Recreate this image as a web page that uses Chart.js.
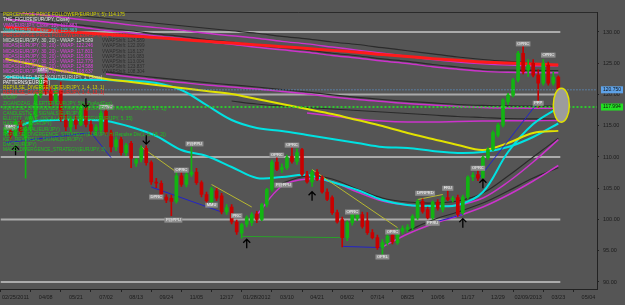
<!DOCTYPE html>
<html>
<head>
<meta charset="utf-8">
<script src="https://cdn.jsdelivr.net/npm/chart.js@4.4.1/dist/chart.umd.min.js"></script>
<style>
  html, body { margin: 0; padding: 0; background: #555555; overflow: hidden; }
  canvas { display: block; }
</style>
</head>
<body>
<canvas id="chart" width="625" height="305"></canvas>
<script>
// EUR/JPY weekly, Feb 2011 - Mar 2013
const opens  = [113.8,114.6,113.5,115.6,113.0,114.6,116.5,119.9,122.7,120.6,119.0,120.6,116.0,114.8,116.0,115.2,118.0,115.2,114.2,114.3,
                117.3,114.0,111.6,112.8,110.7,112.2,109.0,109.6,111.4,109.1,106.0,105.8,103.6,103.4,102.9,107.0,105.6,107.2,107.6,105.9,
                104.0,102.8,104.6,103.8,101.2,102.0,99.6,97.8,99.2,99.5,100.9,100.0,102.4,104.8,109.2,108.0,108.3,110.1,109.3,111.2,
                107.2,106.0,107.6,106.7,104.4,103.5,101.1,100.0,97.1,99.5,100.2,100.8,99.8,97.9,97.1,95.5,96.3,97.5,96.3,98.1,
                98.4,98.7,100.3,102.9,101.6,100.3,102.8,101.6,103.5,103.2,103.5,101.1,103.6,106.8,107.2,106.7,109.9,111.2,113.5,115.1,
                118.8,119.9,122.3,126.6,123.9,125.0,123.1,121.8,124.7,121.8,122.8];
const highs  = [115.2,115.0,116.0,115.9,115.0,117.0,120.3,123.2,123.3,121.2,121.5,122.0,116.8,116.5,116.6,118.3,118.5,115.8,115.2,117.4,
                117.8,114.3,113.2,113.2,112.2,112.5,109.8,111.8,111.8,109.4,106.6,106.2,104.0,103.9,107.5,107.6,107.6,111.6,108.2,106.2,
                104.4,105.2,105.0,104.2,102.4,102.4,99.9,99.4,100.6,101.1,101.3,102.6,105.0,109.5,110.2,108.9,110.3,111.5,111.3,111.4,
                107.7,107.9,108.0,107.0,104.9,103.8,101.5,100.4,99.8,101.3,101.0,101.2,101.1,98.4,97.5,96.8,97.8,98.4,98.5,99.0,
                99.2,100.8,103.2,103.3,102.0,103.0,103.2,103.8,105.1,103.7,103.9,103.9,107.0,107.5,108.0,110.2,111.5,114.2,115.4,119.3,
                120.2,122.6,126.9,127.9,125.6,125.6,124.0,125.6,125.2,123.6,123.0];
const lows   = [113.3,112.8,113.2,113.4,106.6,114.0,116.0,119.5,120.0,118.2,118.6,115.7,114.2,114.0,114.5,115.0,114.8,113.6,113.5,114.0,
                113.6,110.8,111.0,110.3,110.2,108.3,108.5,109.2,108.7,105.6,105.1,103.3,102.7,100.6,102.6,105.3,105.2,106.9,105.6,103.6,
                102.6,102.5,103.0,100.9,100.8,99.3,97.6,97.0,98.8,99.0,99.5,99.8,102.0,104.5,107.8,107.5,108.0,109.0,108.8,107.0,
                105.8,105.3,106.2,104.2,103.0,100.8,99.4,95.6,96.6,99.1,99.8,98.6,97.6,96.9,95.2,94.1,95.9,96.1,96.0,97.7,
                98.0,98.3,100.0,101.0,100.1,100.0,101.5,101.2,103.0,102.8,100.5,100.8,103.3,106.2,106.2,106.4,109.6,111.0,113.2,114.8,
                118.4,119.6,122.0,123.3,122.9,122.8,117.9,121.5,121.5,121.5,119.8];
const closes = [114.6,113.5,115.6,114.0,114.6,116.5,119.9,122.7,120.6,119.0,120.6,116.0,114.8,116.0,115.2,118.0,115.2,114.2,114.8,117.0,
                114.0,111.6,112.8,110.7,111.9,109.8,109.6,111.4,109.1,106.0,105.8,103.6,103.1,102.9,107.0,105.6,107.2,107.6,105.9,104.0,
                103.0,104.9,103.4,101.2,101.9,99.6,98.0,99.2,100.3,100.8,100.0,102.4,104.8,109.2,108.0,108.3,109.9,109.3,110.7,107.2,
                106.0,107.6,106.4,104.4,103.2,101.1,99.6,97.1,99.5,101.0,100.7,98.9,97.9,97.1,95.5,96.3,97.3,96.4,98.1,98.6,
                98.8,100.5,102.9,101.3,100.3,102.8,101.8,103.5,103.2,103.4,100.8,103.6,106.8,107.1,106.6,109.9,111.2,113.9,115.1,119.1,
                119.9,122.3,126.6,123.6,124.7,123.1,121.8,125.0,121.8,122.8,120.75];

// x axis
const tickIdx = [2,8,14,20,26,32,38,44,50,56,62,68,74,80,86,92,98,104,110,116];
const tickLabels = ['02/25/2011','04/08','05/21','07/02','08/13','09/24','11/05','12/17','01/28/2012','03/10',
                    '04/21','06/02','07/14','08/25','10/06','11/17','12/29','02/09/2013','03/23','05/04'];
const yTicks = [90,95,100,105,110,115,120,125,130];
const roundLevels = [90,100,110,120,130];
const markPrice = 117.994;

// indicator lines, sampled every 5 weeks
const lineIdx = [0,5,10,15,20,25,30,35,40,45,50,55,60,65,70,75,80,85,90,95,100,105,110];
const ppf20 = [130.75,130.48,130.16,129.90,129.63,129.36,129.10,128.80,128.51,128.24,127.94,127.65,127.36,127.06,126.77,126.40,126.08,125.74,125.47,125.20,125.04,124.88,124.72];
const ppf5  = [125.68,124.88,123.92,123.28,122.48,122.0,121.52,121.04,120.56,120.08,119.28,118.48,117.68,116.88,115.92,114.96,113.84,112.88,111.92,111.12,112.24,113.84,114.18];
const vma12 = [113.84,115.6,115.92,115.92,115.76,114.8,113.36,111.12,110.16,108.4,106.64,106.8,107.12,106.0,104.72,103.12,102.32,102.16,102.32,104.4,110.8,115.28,117.88];
const vma26 = [122.8,122.64,122.48,122.32,122.32,122.16,121.84,120.72,118.32,115.92,114.64,114.16,113.52,112.88,112.24,111.6,111.44,110.96,110.64,110.8,111.6,113.2,115.36];
const midas1 = [133.3,132.9,132.5,132.0,131.6,131.1,130.7,130.3,129.8,129.4,129.0,128.5,128.1,127.6,127.1,126.6,126.1,125.6,125.2,124.9,124.7,124.6,124.59];
const shift1 = [133.8,133.4,133.0,132.6,132.2,131.8,131.4,131.0,130.6,130.2,129.8,129.3,128.9,128.4,128.0,127.5,127.0,126.5,126.0,125.6,125.3,125.0,124.6];
const midas6 = [132.05,131.65,131.15,130.75,130.25,129.85,129.35,128.95,128.45,128.05,127.55,127.15,126.75,126.25,125.85,125.35,124.95,124.45,124.05,123.7,123.55,123.5,123.5];
const shift6 = [132.4,132.0,131.5,131.1,130.6,130.2,129.7,129.3,128.8,128.4,127.9,127.5,127.1,126.6,126.2,125.7,125.3,124.8,124.4,124.0,123.9,123.85,123.84];
const midas3 = [null,null,null,null,123.28,122.8,122.32,121.92,121.52,121.2,120.88,120.48,120.08,119.6,119.2,118.88,118.56,118.32,118.08,117.92,117.84,117.81,117.80];
const shift3 = [null,null,null,null,123.6,123.15,122.7,122.3,121.9,121.55,121.2,120.8,120.4,119.95,119.55,119.2,118.9,118.65,118.4,118.25,118.17,118.14,118.14];
const midas4 = [null,null,null,null,null,null,null,null,null,null,null,null,117.04,116.56,116.08,115.76,115.6,115.6,115.68,115.76,115.79,115.81,115.83];
const shift4 = [null,null,null,null,null,null,null,null,null,118.96,118.48,118.16,117.92,117.68,117.44,117.2,116.96,116.72,116.48,116.32,116.16,116.1,116.08];
const midas5 = [null,null,null,null,null,null,null,null,null,null,100.72,105.36,106.48,106.0,104.4,102.96,102.32,102.16,102.32,103.44,106.0,109.2,112.78];
const shift5 = [null,null,null,null,null,null,null,null,null,null,null,105.84,106.96,106.48,104.88,103.44,102.8,102.64,102.96,104.24,106.96,110.0,113.0];
const midas7 = [null,null,null,null,null,null,null,null,null,null,null,null,null,null,null,95.6,97.68,99.28,100.56,102.0,103.92,106.16,108.64];
const shift7 = [null,null,null,null,null,null,null,null,null,null,null,null,null,null,null,null,98.16,99.92,101.2,102.64,104.56,106.64,108.3];

// zigzag / trend segments as [week, price]
const zigBlue = [[[0,112.3],[17,113.9],[21,109.9]], [[29,105.2],[43,101.2]], [[67,95.7],[75,95.5]], [[85,99.5],[91,100.8]], [[94,106.4],[106,118.8]]];
const zigYellow = [[[27,111.6],[34,107.6]], [[41,105.6],[49,102.0]], [[61,108.0],[78,98.7]], [[82,103.2],[87,104.0]]];
const zigGreen = [[47,97.3],[67,97.1]];

// pattern tags and signal arrows
const tagIdx   = [1,7.4,20,37.6,30,33.4,35,41,46,54,57,55.3,69,77,75,83.5,88,85,94,103,108,106];
const tagPrice = [114.8,123.9,118.0,112.1,103.6,99.9,107.9,102.3,100.6,110.3,111.9,105.5,101.2,98.0,94.0,104.2,105.0,99.4,108.2,128.1,126.3,118.6];
const tagText  = ['DMC','DMC','OPRC','P@PPU','DPRC','P@PPU','OPRC','MMU','PRC','OPRC','OPRC','P@PPU','OPRC','OPRC','OPRL','DPRPRD','FRU','PPRU','OPRC','OPRC','OPRC','PPP'];
const arrowIdx   = [16,28,2,48,61,91,95];
const arrowPrice = [118.6,112.7,111.1,96.2,103.8,99.5,105.8];
const arrowDir   = [-1,-1,1,1,1,1,1];

// indicator legend, top left
const legendText = [
  'PERCENTAGE PRICE FOLLOWER(EUR/JPY, 5): 114.175',
  'THE_FIGURE(EUR/JPY, Close)',
  'VMA(EUR/JPY, Close, 12): 117.883',
  'VMA(EUR/JPY, Close, 26): 115.363',
  'PERCENTAGE PRICE FOLLOWER(EUR/JPY, 20): 123.994',
  'MIDAS(EUR/JPY, 30, 20) - VWAP: 124.589',
  'MIDAS(EUR/JPY, 30, 20) - VWAP: 122.246',
  'MIDAS(EUR/JPY, 30, 20) - VWAP: 117.801',
  'MIDAS(EUR/JPY, 30, 20) - VWAP: 115.831',
  'MIDAS(EUR/JPY, 30, 20) - VWAP: 112.779',
  'MIDAS(EUR/JPY, 30, 20) - VWAP: 124.588',
  'MIDAS(EUR/JPY, 30, 20) - VWAP: 108.637',
  'SCHEDULED_BREAKOUT(EUR/JPY, 1, Close)',
  'PATTERNS(EUR/JPY)',
  'REPULSE_DIVERGENCE(EUR/JPY, 1, 4, 13, 1)',
  'REPULSE_DIVERGENCE(EUR/JPY, 1, 4, 13, 1)',
  'OCMP',
  'ZIGANDZAG_ALERTER(EUR/JPY, 5%, ZigAndZag)',
  'REPULSE_DIVERGENCE_STRATEGY(EUR/JPY, Lo Repulse Div(1, 3, 18, 1))',
  'CANDLESTICK_SIGNALS(EUR/JPY)',
  'ELLIOTT_WAVE_OSCILLATOR_STRATEGY(EUR/JPY, 5, 35)',
  'HARMONIC(EUR/JPY)',
  'PIVOT_SIGNAL(EUR/JPY)',
  'REPULSE_DIVERGENCE_STRATEGY(EUR/JPY, Hi Repulse Div(1, 3, 18, 2))',
  'KEY_REVERSAL_SIGNAL(EUR/JPY)',
  'DMC(EUR/JPY)',
  'MACD_DIVERGENCE_STRATEGY(EUR/JPY, 3)'
];
const legendColor = ['#d4d400','#e6e6e6','#e040e0','#30d0d0','#ff2424','#d8d8d8','#e040e0','#e040e0','#e040e0','#e040e0','#e040e0','#e040e0',
                     '#cfcfcf','#f0f0f0','#d4d400','#ff2424','#22c022','#22c022','#22c022','#22c022','#22c022','#22c022','#22c022','#22c022','#22c022','#22c022','#22c022'];
const shiftText = ['124.589','122.099','118.137','116.083','113.004','123.837','108.304'];

const GREEN = '#12b412', RED = '#c80000', MAG = '#cc33cc', DARK = '#2a2a2a', CYAN = '#00e2e2', YEL = '#e2e200';

function series(vals, color, width, order) {
  return {
    type: 'line',
    data: lineIdx.map((i, k) => ({ x: i, y: vals[k] })).filter(p => p.y !== null),
    borderColor: color, borderWidth: width, pointRadius: 0, tension: 0.35, order: order
  };
}
function segment(pts, color, width, order) {
  return {
    type: 'line',
    data: pts.map(p => ({ x: p[0], y: p[1] })),
    borderColor: color, borderWidth: width, pointRadius: 0, tension: 0, order: order
  };
}

const weeks = opens.map((_, i) => i);
const candleColor = weeks.map(i => closes[i] >= opens[i] ? GREEN : RED);

const datasets = [
  { type: 'bar', data: weeks.map(i => ({ x: i, y: [opens[i], closes[i]] })), backgroundColor: candleColor,
    barThickness: 3, minBarLength: 1, grouped: false, order: 1 },
  { type: 'bar', data: weeks.map(i => ({ x: i, y: [lows[i], highs[i]] })), backgroundColor: candleColor,
    barThickness: 1, grouped: false, order: 2 },
  { type: 'line', data: [{ x: -1, y: closes[closes.length - 1] }, { x: 118, y: closes[closes.length - 1] }],
    borderColor: '#5ea2e8', borderWidth: 1, borderDash: [1, 2], pointRadius: 0, order: 0 },
  { type: 'line', data: [{ x: -1, y: markPrice }, { x: 118, y: markPrice }],
    borderColor: '#22ee22', borderWidth: 1.5, borderDash: [2, 2], pointRadius: 0, order: 0 },
  segment(zigGreen, '#2aa02a', 1, 3),
  ...zigBlue.map(s => segment(s, '#2323c8', 1, 3)),
  ...zigYellow.map(s => segment(s, '#b8b830', 1, 3)),
  series(ppf20, '#ff1a1a', 3, 4),
  series(ppf5, YEL, 2, 4),
  series(vma12, CYAN, 2, 4),
  series(vma26, CYAN, 2, 4),
  series(midas1, MAG, 1.5, 5), series(shift1, DARK, 1.2, 5),
  series(midas6, MAG, 1.5, 5), series(shift6, DARK, 1.2, 5),
  series(midas3, MAG, 1.5, 5), series(shift3, DARK, 1.2, 5),
  series(midas4, MAG, 1.5, 5), series(shift4, DARK, 1.2, 5),
  series(midas5, MAG, 1.5, 5), series(shift5, DARK, 1.2, 5),
  series(midas7, MAG, 1.5, 5), series(shift7, DARK, 1.2, 5),
  ...roundLevels.map(v => ({ type: 'line', data: [{ x: -1, y: v }, { x: 110.4, y: v }],
    borderColor: '#ababab', borderWidth: 2, pointRadius: 0, order: 6 }))
];

const decor = {
  id: 'decor',
  beforeDraw(chart) {
    const ctx = chart.ctx;
    ctx.save();
    ctx.fillStyle = '#555555';
    ctx.fillRect(0, 0, chart.width, chart.height);
    ctx.restore();
  },
  afterDatasetsDraw(chart) {
    const { ctx, chartArea: a, scales: { x, y } } = chart;
    ctx.save();
    ctx.strokeStyle = '#2a2a2a';
    ctx.lineWidth = 1;
    ctx.beginPath(); ctx.moveTo(a.left, a.top + 0.5); ctx.lineTo(a.right, a.top + 0.5); ctx.stroke();

    // pattern tags
    ctx.font = '4px "Liberation Sans"';
    ctx.textAlign = 'center';
    ctx.textBaseline = 'middle';
    tagText.forEach((t, k) => {
      const px = x.getPixelForValue(tagIdx[k]), py = y.getPixelForValue(tagPrice[k]);
      const w = ctx.measureText(t).width + 3;
      ctx.fillStyle = '#8e8e8e';
      ctx.fillRect(px - w / 2, py - 2.5, w, 5);
      ctx.fillStyle = '#ffffff';
      ctx.fillText(t, px, py);
    });

    // signal arrows
    ctx.strokeStyle = '#000000';
    ctx.lineWidth = 1.3;
    arrowIdx.forEach((i, k) => {
      const px = x.getPixelForValue(i), py = y.getPixelForValue(arrowPrice[k]);
      const d = arrowDir[k];
      ctx.beginPath();
      ctx.moveTo(px, py + 5 * d); ctx.lineTo(px, py - 4 * d);
      ctx.moveTo(px - 3.5, py - 0.5 * d); ctx.lineTo(px, py - 4 * d); ctx.lineTo(px + 3.5, py - 0.5 * d);
      ctx.stroke();
    });

    // highlight ellipse on the last bars
    const ex = x.getPixelForValue(110.6), ey = y.getPixelForValue(118.3);
    ctx.beginPath();
    ctx.ellipse(ex, ey, 8, 17, 0, 0, Math.PI * 2);
    ctx.fillStyle = '#9c9c9c';
    ctx.fill();
    ctx.strokeStyle = '#e0e000';
    ctx.lineWidth = 1.5;
    ctx.stroke();
    ctx.restore();
  },
  afterDraw(chart) {
    const { ctx, scales: { y } } = chart;
    ctx.save();
    ctx.font = '4.7px "Liberation Sans"';
    ctx.textBaseline = 'middle';
    ctx.textAlign = 'left';
    legendText.forEach((t, k) => {
      const ty = 15 + k * 5.2;
      ctx.fillStyle = legendColor[k];
      ctx.fillText(t, 3, ty);
      if (k >= 5 && k <= 11) {
        ctx.fillStyle = '#2e2e2e';
        ctx.fillText('VWAPShift: ' + shiftText[k - 5], 102, ty);
      }
    });

    // price boxes on the axis
    ctx.font = '5px "Liberation Sans"';
    const boxes = [[closes[closes.length - 1], '#5ea2e8', '120.750'], [markPrice, '#22e022', '117.994']];
    boxes.forEach(b => {
      const py = y.getPixelForValue(b[0]);
      ctx.fillStyle = b[1];
      ctx.fillRect(601, py - 3.5, 22, 7);
      ctx.fillStyle = '#111111';
      ctx.fillText(b[2], 603, py);
    });
    ctx.restore();
  }
};

new Chart(document.getElementById('chart'), {
  type: 'bar',
  data: { datasets },
  plugins: [decor],
  options: {
    responsive: false,
    animation: false,
    devicePixelRatio: 1,
    layout: { padding: { top: 12, left: 0, right: 0, bottom: 0 } },
    plugins: { legend: { display: false }, tooltip: { enabled: false } },
    scales: {
      x: {
        type: 'linear', min: -1, max: 117.7, offset: false,
        afterBuildTicks: s => { s.ticks = tickIdx.map(v => ({ value: v })); },
        afterFit: s => { s.height = 16; },
        ticks: {
          autoSkip: false, maxRotation: 0, padding: 2, color: '#1c1c1c',
          font: { family: 'Liberation Sans', size: 5.5 },
          callback: v => { const k = tickIdx.indexOf(v); return k >= 0 ? tickLabels[k] : ''; }
        },
        grid: { drawOnChartArea: false, tickLength: 3, color: '#222222' },
        border: { color: '#222222' }
      },
      y: {
        type: 'linear', position: 'right', min: 88.88, max: 133.2,
        afterBuildTicks: s => { s.ticks = yTicks.map(v => ({ value: v })); },
        afterFit: s => { s.width = 28; },
        ticks: {
          padding: 4, color: '#1c1c1c',
          font: { family: 'Liberation Sans', size: 5.5 },
          callback: v => v.toFixed(2)
        },
        grid: { drawOnChartArea: false, tickLength: 2, color: '#222222' },
        border: { color: '#222222' }
      }
    }
  }
});
</script>
</body>
</html>
